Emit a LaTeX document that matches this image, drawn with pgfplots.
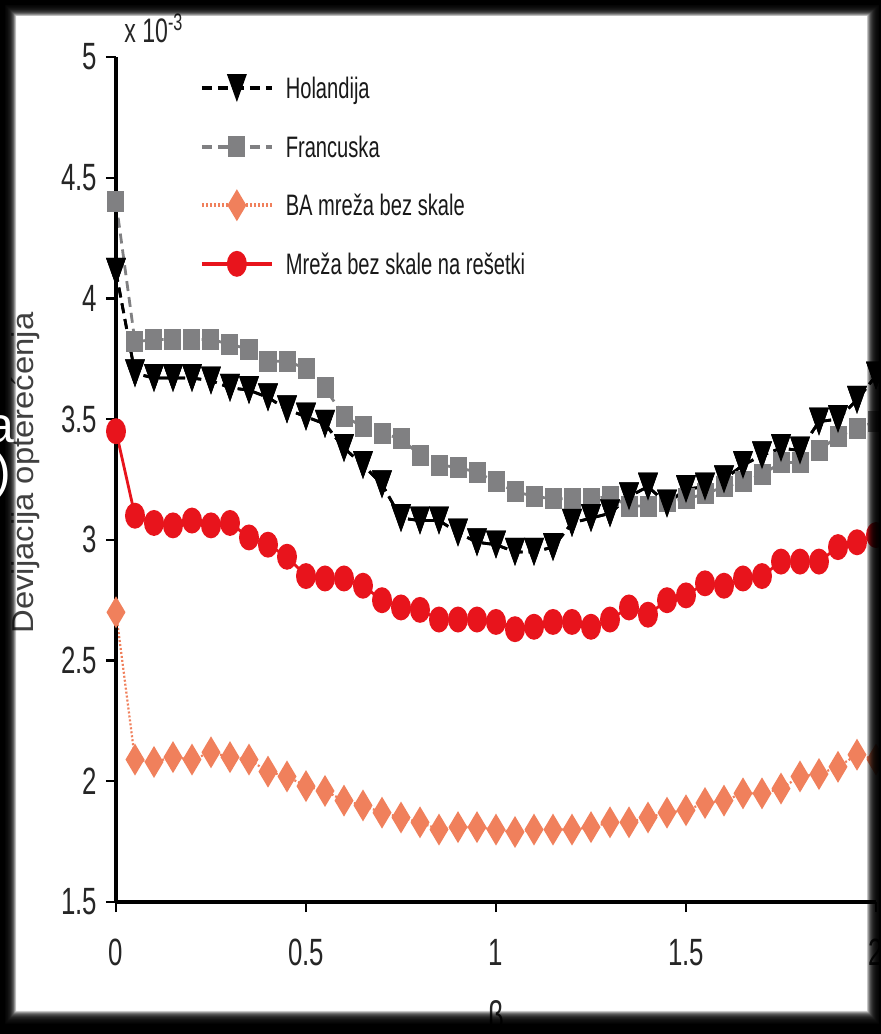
\documentclass[border=0pt]{standalone}
\usepackage{pgfplots}
\pgfplotsset{compat=1.18}
\usepackage{pgfplotstable}
\usepackage{fontspec}
\setmainfont{Liberation Sans}[FakeStretch=0.68]
\newfontfamily\plainsans{Liberation Sans}

\definecolor{grayF}{RGB}{128,128,130}
\definecolor{baor}{RGB}{240,128,92}
\definecolor{redM}{RGB}{232,20,28}

\pgfdeclareplotmark{vtri}{%
  \pgfpathmoveto{\pgfqpoint{-5pt}{7pt}}%
  \pgfpathlineto{\pgfqpoint{5pt}{7pt}}%
  \pgfpathlineto{\pgfqpoint{0pt}{-7pt}}%
  \pgfpathclose\pgfusepathqfill}
\pgfdeclareplotmark{rsq}{%
  \pgfpathrectanglecorners{\pgfqpoint{-4.25pt}{-5.25pt}}{\pgfqpoint{4.25pt}{5.25pt}}%
  \pgfusepathqfill}
\pgfdeclareplotmark{rdia}{%
  \pgfpathmoveto{\pgfqpoint{0pt}{8pt}}%
  \pgfpathlineto{\pgfqpoint{4.75pt}{0pt}}%
  \pgfpathlineto{\pgfqpoint{0pt}{-8pt}}%
  \pgfpathlineto{\pgfqpoint{-4.75pt}{0pt}}%
  \pgfpathclose\pgfusepathqfill}
\pgfdeclareplotmark{rcirc}{%
  \pgfpathellipse{\pgfpointorigin}{\pgfqpoint{5pt}{0pt}}{\pgfqpoint{0pt}{6.5pt}}%
  \pgfusepathqfill}

\pgfplotstableread{
x y
0 4.11
0.05 3.69
0.1 3.67
0.15 3.67
0.2 3.67
0.25 3.66
0.3 3.63
0.35 3.62
0.4 3.59
0.45 3.54
0.5 3.51
0.55 3.48
0.6 3.38
0.65 3.31
0.7 3.23
0.75 3.09
0.8 3.08
0.85 3.08
0.9 3.03
0.95 2.99
1.0 2.98
1.05 2.95
1.1 2.95
1.15 2.97
1.2 3.07
1.25 3.09
1.3 3.11
1.35 3.18
1.4 3.22
1.45 3.15
1.5 3.21
1.55 3.22
1.6 3.25
1.65 3.31
1.7 3.35
1.75 3.38
1.8 3.37
1.85 3.49
1.9 3.50
1.95 3.58
2.0 3.68
}\holandija

\pgfplotstableread{
x y
0 4.40
0.05 3.82
0.1 3.83
0.15 3.83
0.2 3.83
0.25 3.83
0.3 3.81
0.35 3.79
0.4 3.74
0.45 3.74
0.5 3.71
0.55 3.63
0.6 3.51
0.65 3.47
0.7 3.44
0.75 3.42
0.8 3.35
0.85 3.31
0.9 3.30
0.95 3.28
1.0 3.24
1.05 3.20
1.1 3.18
1.15 3.17
1.2 3.17
1.25 3.17
1.3 3.18
1.35 3.14
1.4 3.14
1.45 3.16
1.5 3.17
1.55 3.19
1.6 3.22
1.65 3.24
1.7 3.27
1.75 3.32
1.8 3.32
1.85 3.37
1.9 3.43
1.95 3.46
2.0 3.49
}\francuska

\pgfplotstableread{
x y
0 2.70
0.05 2.09
0.1 2.08
0.15 2.10
0.2 2.09
0.25 2.12
0.3 2.10
0.35 2.09
0.4 2.04
0.45 2.02
0.5 1.98
0.55 1.96
0.6 1.92
0.65 1.90
0.7 1.87
0.75 1.85
0.8 1.83
0.85 1.80
0.9 1.81
0.95 1.81
1.0 1.80
1.05 1.79
1.1 1.80
1.15 1.80
1.2 1.80
1.25 1.81
1.3 1.83
1.35 1.83
1.4 1.85
1.45 1.87
1.5 1.88
1.55 1.91
1.6 1.92
1.65 1.95
1.7 1.95
1.75 1.97
1.8 2.02
1.85 2.03
1.9 2.06
1.95 2.11
2.0 2.09
}\bamreza

\pgfplotstableread{
x y
0 3.45
0.05 3.10
0.1 3.07
0.15 3.06
0.2 3.08
0.25 3.06
0.3 3.07
0.35 3.01
0.4 2.98
0.45 2.93
0.5 2.85
0.55 2.84
0.6 2.84
0.65 2.81
0.7 2.75
0.75 2.72
0.8 2.71
0.85 2.67
0.9 2.67
0.95 2.67
1.0 2.66
1.05 2.63
1.1 2.64
1.15 2.66
1.2 2.66
1.25 2.64
1.3 2.67
1.35 2.72
1.4 2.69
1.45 2.75
1.5 2.77
1.55 2.82
1.6 2.81
1.65 2.84
1.7 2.85
1.75 2.91
1.8 2.91
1.85 2.91
1.9 2.97
1.95 2.99
2.0 3.02
}\resetka

\begin{document}
\begin{tikzpicture}
\useasboundingbox (0,0) rectangle (440.5pt,517pt);
\fill[white] (0,0) rectangle (440.5pt,517pt);
\begin{axis}[
  at={(58pt,66pt)}, anchor=south west,
  scale only axis, width=380pt, height=422.5pt,
  xmin=0, xmax=2, ymin=1.5, ymax=5,
  xtick={0,0.5,1,1.5,2}, ytick={1.5,2,2.5,3,3.5,4,4.5,5},
  axis x line*=bottom, axis y line*=left,
  axis line style={line width=2.2pt},
  tick align=outside, major tick length=5pt,
  tick style={black, line width=1.2pt},
  /pgf/number format/assume math mode=true,
  tick label style={font=\fontsize{19}{21}\selectfont, text=black!85},
  xticklabel style={yshift=-10pt},
  yticklabel style={xshift=-1pt},
  clip=false, axis on top,
  xlabel={β}, xlabel style={font=\fontsize{20}{22}\selectfont, at={(axis description cs:0.5,-0.1166)}, anchor=north, inner sep=0pt, text=black!85},
  ylabel={\scalebox{1}[0.92]{\plainsans\fontsize{16.4}{18}\selectfont Devijacija opterećenja}},
  ylabel style={at={(axis description cs:-0.1197,0.5077)}, anchor=center, text=black!75},
  legend image code/.code={%
    \path[draw=none,fill=none] (0pt,-8pt) rectangle (35pt,8pt);
    \draw[mark repeat=2,mark phase=2,#1,line width=1.9pt] plot coordinates {(0pt,0pt) (17.5pt,0pt) (35pt,0pt)};},
  legend cell align=left,
  legend style={draw=none, fill=none, inner sep=0pt, outer sep=0pt,
    at={(axis description cs:0.1105,0.9822)}, anchor=north west,
    row sep=13.3pt, column sep=6pt,
    font=\fontsize{14.8}{16}\selectfont, text=black!90,
    nodes={inner sep=0pt, text height=10.5pt, text depth=0pt}},
]
\addplot[black, line width=1.4pt, dash pattern=on 5pt off 3pt, mark=vtri] table[x=x,y=y] {\holandija};
\addlegendentry{Holandija}
\addplot[grayF, line width=1.4pt, dash pattern=on 5pt off 3pt, mark=rsq] table[x=x,y=y] {\francuska};
\addlegendentry{Francuska}
\addplot[baor, line width=1.1pt, dash pattern=on 1pt off 1pt, mark=rdia] table[x=x,y=y] {\bamreza};
\addlegendentry{BA mreža bez skale}
\addplot[redM, line width=1.4pt, mark=rcirc] table[x=x,y=y] {\resetka};
\addlegendentry{Mreža bez skale na rešetki}
\addplot[black, line width=1.4pt, dash pattern=on 5pt off 3pt, mark=vtri, forget plot] table[x=x,y=y] {\holandija};
\node[anchor=base west, font=\fontsize{17}{19}\selectfont, inner sep=0pt, text=black!85] at (axis description cs:0.0105,1.0166) {x 10\textsuperscript{-3}};
\end{axis}
\begin{scope}[yshift=517pt, x=0.5pt, y=-0.5pt]
  \fill[black, even odd rule] (-10,-10) rectangle (891,1044) (5,5) rectangle (879,1024);
  \foreach \k in {1,...,16}{%
    \pgfmathsetmacro\a{5+11*\k/16}%
    \pgfmathsetmacro\b{879-12*\k/16}%
    \pgfmathsetmacro\c{1024-13*\k/16}%
    \fill[black, opacity=0.2, even odd rule] (5,5) rectangle (879,1024) (\a,\a) rectangle (\b,\c);
  }
  \node[anchor=base east, text=white, inner sep=0pt, font=\plainsans\fontsize{25}{28}\selectfont] at (15,443) {a};
  \node[anchor=east, text=white, inner sep=0pt, font=\plainsans\fontsize{25}{28}\selectfont] at (12,476) {)};
\end{scope}
\end{tikzpicture}
\end{document}
